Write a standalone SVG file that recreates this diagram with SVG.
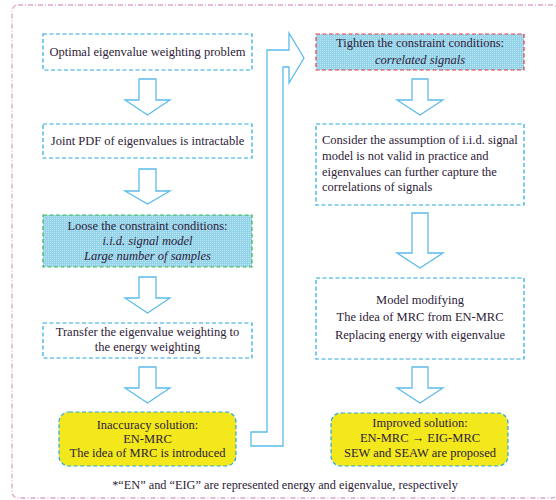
<svg xmlns="http://www.w3.org/2000/svg" width="556" height="500" viewBox="0 0 556 500">
<style>
.box{fill:#fff;stroke:#2aa8df;stroke-width:1.2;stroke-dasharray:4 2.5}
.blue{fill:url(#dots)}
.green{stroke:#3db54a}
.red{stroke:#e8393f}
.yel{fill:#f2e81c;stroke:#2aa8df;stroke-width:1.2;stroke-dasharray:4 2.5}
.arr{fill:#fff;stroke:#5bbbea;stroke-width:1.3;stroke-linejoin:miter}
.t{font-family:"Liberation Serif","Times New Roman",serif;font-size:12.5px;fill:#2e2138}
.c{text-anchor:middle}
.i{font-style:italic}
.outer{fill:none;stroke:#dba6cb;stroke-width:1.3;stroke-dasharray:5 2 1 2}
</style>
<defs>
<pattern id="dots" width="2" height="2" patternUnits="userSpaceOnUse">
<rect width="2" height="2" fill="#92d3ea"/>
<rect width="1" height="1" fill="#bfe6f4"/>
</pattern>
</defs>
<rect class="outer" x="12" y="5" width="546" height="493" rx="6"/>
<g id="connectors">
<polygon class="arr" points="139,79 156,79 156,100 170,100 147.5,115 125,100 139,100"/>
<polygon class="arr" points="139,169 156,169 156,191 170,191 147.5,204 125,191 139,191"/>
<polygon class="arr" points="139,277 156,277 156,298 170,298 147.5,313 125,298 139,298"/>
<polygon class="arr" points="139,367 156,367 156,388 170,388 147.5,403 125,388 139,388"/>
<polygon class="arr" points="412,79 428,79 428,100 443,100 420,115 397,100 412,100"/>
<polygon class="arr" points="412,213 428,213 428,253 443,253 420,268 397,253 412,253"/>
<polygon class="arr" points="412,367 428,367 428,388 443,388 420,403 397,388 412,388"/>
<polygon class="arr" points="267,50 289,50 289,33 304,58 289,83 289,67 283,67 283,446 251,446 251,432 267,432"/>
</g>
<g id="n1">
<rect class="box" x="43" y="34" width="209" height="36"/>
<text class="t c" x="147.5" y="56">Optimal eigenvalue weighting problem</text>
</g>
<g id="n2">
<rect class="box" x="43" y="124" width="209" height="34"/>
<text class="t c" x="147.5" y="145">Joint PDF of eigenvalues is intractable</text>
</g>
<g id="n3">
<rect class="box blue green" x="43" y="215" width="209" height="52"/>
<text class="t c" x="147.5" y="230">Loose the constraint conditions:</text>
<text class="t c i" x="147.5" y="245">i.i.d. signal model</text>
<text class="t c i" x="147.5" y="260">Large number of samples</text>
</g>
<g id="n4">
<rect class="box" x="43" y="323" width="209" height="35"/>
<text class="t c" x="147.5" y="336">Transfer the eigenvalue weighting to</text>
<text class="t c" x="147.5" y="351">the energy weighting</text>
</g>
<g id="n5">
<rect class="yel" x="59" y="412" width="177" height="54" rx="10"/>
<text class="t c" x="147.5" y="429">Inaccuracy solution:</text>
<text class="t c" x="147.5" y="443">EN-MRC</text>
<text class="t c" x="147.5" y="457">The idea of MRC is introduced</text>
</g>
<g id="r1">
<rect class="box blue red" x="316" y="34" width="208" height="36"/>
<text class="t c" x="420" y="47">Tighten the constraint conditions:</text>
<text class="t c i" x="420" y="64">correlated signals</text>
</g>
<g id="r2">
<rect class="box" x="316" y="124" width="208" height="81"/>
<text class="t" x="322" y="144">Consider the assumption of i.i.d. signal</text>
<text class="t" x="322" y="160">model is not valid in practice and</text>
<text class="t" x="322" y="176">eigenvalues can further capture the</text>
<text class="t" x="322" y="191">correlations of signals</text>
</g>
<g id="r3">
<rect class="box" x="316" y="278" width="208" height="81"/>
<text class="t c" x="420" y="304">Model modifying</text>
<text class="t c" x="420" y="321">The idea of MRC from EN-MRC</text>
<text class="t c" x="420" y="339">Replacing energy with eigenvalue</text>
</g>
<g id="r4">
<rect class="yel" x="331" y="413" width="177" height="53" rx="10"/>
<text class="t c" x="420" y="427">Improved solution:</text>
<text class="t c" x="420" y="442">EN-MRC → EIG-MRC</text>
<text class="t c" x="420" y="457">SEW and SEAW are proposed</text>
</g>
<text class="t c" x="285" y="489" style="font-size:12.3px">*“EN” and “EIG” are represented energy and eigenvalue, respectively</text>
</svg>
